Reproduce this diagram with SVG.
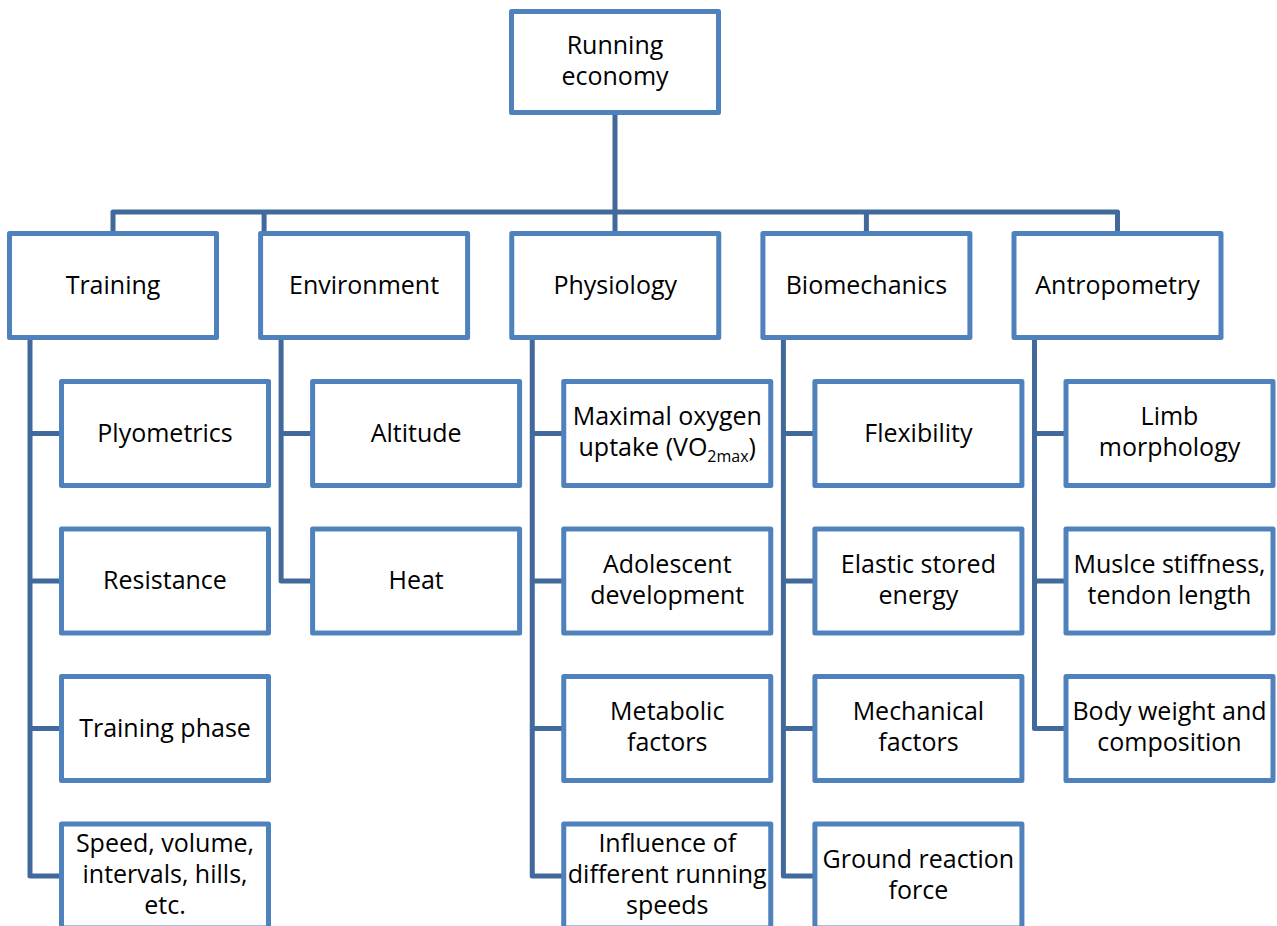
<svg xmlns="http://www.w3.org/2000/svg" width="1277" height="926" viewBox="0 0 1277 926">
<style>
.box{fill:#fff;stroke:#4F81BD;stroke-width:5;stroke-linejoin:round}
.con{fill:none;stroke:#41699C;stroke-width:5;stroke-linejoin:round}
text{font-family:"Open Sans","Noto Sans","Liberation Sans",sans-serif;font-size:25px;fill:#000;text-anchor:middle}
.sub{font-size:16px}
</style>
<rect width="1277" height="926" fill="#fff"/>
<g id="connectors">
<path class="con" d="M615,112.5V233.5M113,233.5V212H1117.5V233.5M264.1,212V233.5M866.4,212V233.5"/>
<path class="con" d="M30,337.5V876H61.5M30,433.5H61.5M30,581H61.5M30,728.5H61.5"/>
<path class="con" d="M281.1,337.5V581H312.6M281.1,433.5H312.6"/>
<path class="con" d="M532.25,337.5V876H563.75M532.25,433.5H563.75M532.25,581H563.75M532.25,728.5H563.75"/>
<path class="con" d="M783.4,337.5V876H814.9M783.4,433.5H814.9M783.4,581H814.9M783.4,728.5H814.9"/>
<path class="con" d="M1034.5,337.5V728.5H1066M1034.5,433.5H1066M1034.5,581H1066"/>
</g>
<g id="root"><rect class="box" x="511.5" y="11.5" width="207" height="101"/><text x="615" y="53.5">Running</text><text x="615" y="84.5">economy</text></g>
<g id="training"><rect class="box" x="9.5" y="233.5" width="207" height="104"/><text x="113" y="294">Training</text></g>
<g id="environment"><rect class="box" x="260.6" y="233.5" width="207" height="104"/><text x="364.1" y="294">Environment</text></g>
<g id="physiology"><rect class="box" x="511.75" y="233.5" width="207" height="104"/><text x="615.25" y="294">Physiology</text></g>
<g id="biomechanics"><rect class="box" x="762.9" y="233.5" width="207" height="104"/><text x="866.4" y="294">Biomechanics</text></g>
<g id="antropometry"><rect class="box" x="1014" y="233.5" width="207" height="104"/><text x="1117.5" y="294">Antropometry</text></g>

<g id="plyometrics"><rect class="box" x="61.5" y="381.5" width="207" height="104"/><text x="165" y="441.5">Plyometrics</text></g>
<g id="resistance"><rect class="box" x="61.5" y="529" width="207" height="104"/><text x="165" y="589">Resistance</text></g>
<g id="training-phase"><rect class="box" x="61.5" y="676.5" width="207" height="104"/><text x="165" y="736.5">Training phase</text></g>
<g id="speed"><rect class="box" x="61.5" y="824" width="207" height="104"/><text x="165" y="852">Speed, volume,</text><text x="165" y="883">intervals, hills,</text><text x="165" y="914">etc.</text></g>

<g id="altitude"><rect class="box" x="312.6" y="381.5" width="207" height="104"/><text x="416.1" y="441.5">Altitude</text></g>
<g id="heat"><rect class="box" x="312.6" y="529" width="207" height="104"/><text x="416.1" y="589">Heat</text></g>

<g id="vo2max"><rect class="box" x="563.75" y="381.5" width="207" height="104"/><text x="667.25" y="425">Maximal oxygen</text><text x="667.25" y="456">uptake (VO<tspan class="sub" dy="6">2max</tspan><tspan dy="-6">)</tspan></text></g>
<g id="adolescent"><rect class="box" x="563.75" y="529" width="207" height="104"/><text x="667.25" y="572.5">Adolescent</text><text x="667.25" y="603.5">development</text></g>
<g id="metabolic"><rect class="box" x="563.75" y="676.5" width="207" height="104"/><text x="667.25" y="720">Metabolic</text><text x="667.25" y="751">factors</text></g>
<g id="speeds"><rect class="box" x="563.75" y="824" width="207" height="104"/><text x="667.25" y="852">Influence of</text><text x="667.25" y="883">different running</text><text x="667.25" y="914">speeds</text></g>

<g id="flexibility"><rect class="box" x="814.9" y="381.5" width="207" height="104"/><text x="918.4" y="441.5">Flexibility</text></g>
<g id="elastic"><rect class="box" x="814.9" y="529" width="207" height="104"/><text x="918.4" y="572.5">Elastic stored</text><text x="918.4" y="603.5">energy</text></g>
<g id="mechanical"><rect class="box" x="814.9" y="676.5" width="207" height="104"/><text x="918.4" y="720">Mechanical</text><text x="918.4" y="751">factors</text></g>
<g id="grf"><rect class="box" x="814.9" y="824" width="207" height="104"/><text x="918.4" y="867.5">Ground reaction</text><text x="918.4" y="898.5">force</text></g>

<g id="limb"><rect class="box" x="1066" y="381.5" width="207" height="104"/><text x="1169.5" y="425">Limb</text><text x="1169.5" y="456">morphology</text></g>
<g id="stiffness"><rect class="box" x="1066" y="529" width="207" height="104"/><text x="1169.5" y="572.5">Muslce stiffness,</text><text x="1169.5" y="603.5">tendon length</text></g>
<g id="bodyweight"><rect class="box" x="1066" y="676.5" width="207" height="104"/><text x="1169.5" y="720">Body weight and</text><text x="1169.5" y="751">composition</text></g>
</svg>
